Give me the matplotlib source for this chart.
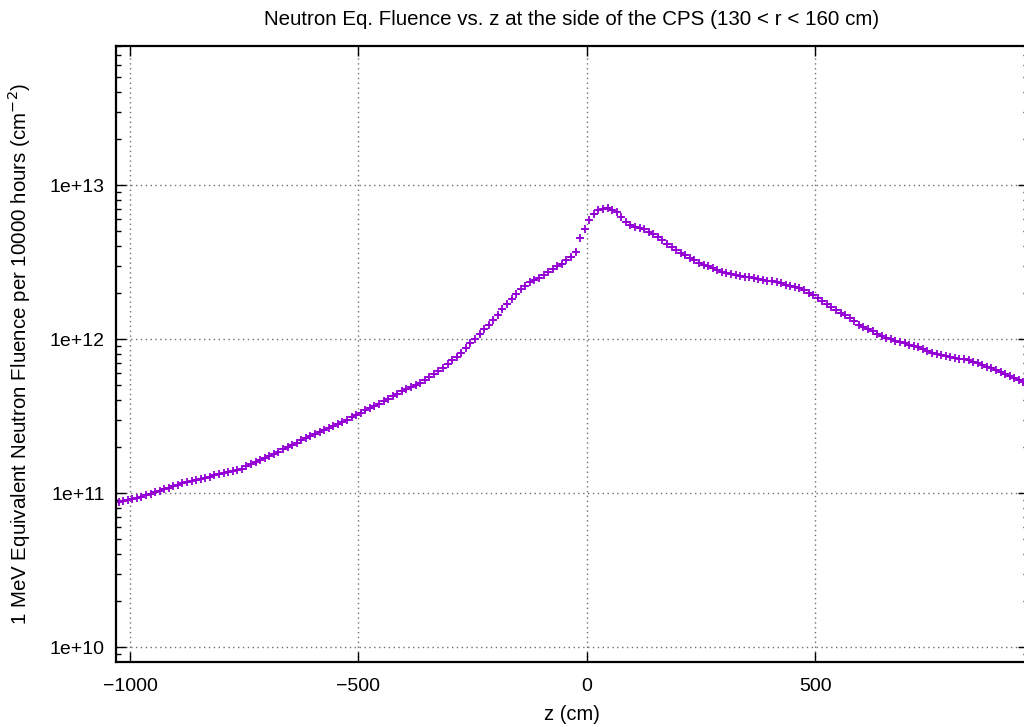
import matplotlib
matplotlib.use("Agg")
import matplotlib.pyplot as plt
import numpy as np
from matplotlib.ticker import FixedLocator, FuncFormatter, LogLocator, NullFormatter

plt.rcParams["font.family"] = ["Liberation Sans", "DejaVu Sans"]

# bin centres along z (cm), 10 cm bins
z_cm = np.arange(-1025, 960, 10)

# 1 MeV neq fluence per 10000 h, in units of 1e11 cm^-2
fluence_e11 = [
    0.870, 0.885, 0.901, 0.915, 0.932, 0.950, 0.970, 0.991, 1.010, 1.035,
    1.060, 1.086, 1.110, 1.136, 1.154, 1.175, 1.196, 1.216, 1.239, 1.259,
    1.280, 1.303, 1.325, 1.346, 1.371, 1.394, 1.405, 1.440, 1.502, 1.543,
    1.585, 1.635, 1.688, 1.739, 1.797, 1.857, 1.919, 1.986, 2.056, 2.128,
    2.199, 2.276, 2.356, 2.435, 2.505, 2.573, 2.643, 2.719, 2.802, 2.900,
    3.001, 3.102, 3.210, 3.322, 3.439, 3.559, 3.684, 3.813, 3.958, 4.108,
    4.265, 4.427, 4.581, 4.721, 4.864, 5.012, 5.180, 5.418, 5.666, 5.926,
    6.198, 6.530, 6.891, 7.272, 7.675, 8.159, 8.742, 9.363, 10.03, 10.76,
    11.56, 12.42, 13.39, 14.43, 15.59, 16.90, 18.30, 19.66, 21.02, 22.23,
    23.45, 24.27, 25.08, 26.12, 27.23, 28.35, 29.61, 30.88, 32.49, 34.23,
    36.94, 45.27, 51.80, 59.27, 64.82, 68.82, 70.38, 70.90, 69.12, 66.79,
    61.97, 57.51, 54.90, 53.77, 52.58, 51.56, 49.90, 48.07, 46.24, 44.08,
    41.70, 39.63, 38.01, 36.45, 34.95, 33.57, 32.43, 31.39, 30.46, 29.66,
    28.91, 28.06, 27.43, 26.99, 26.55, 26.12, 25.65, 25.38, 25.12, 24.89,
    24.64, 24.30, 23.98, 23.66, 23.34, 23.00, 22.59, 22.23, 21.83, 21.44,
    20.75, 20.01, 19.31, 18.38, 17.55, 16.80, 16.11, 15.43, 14.84, 14.25,
    13.69, 13.05, 12.42, 12.00, 11.59, 11.20, 10.79, 10.41, 10.15, 9.956,
    9.763, 9.561, 9.363, 9.183, 9.006, 8.833, 8.612, 8.383, 8.172, 8.040,
    7.897, 7.757, 7.641, 7.540, 7.450, 7.372, 7.261, 7.100, 6.953, 6.809,
    6.628, 6.443, 6.263, 6.087, 5.908, 5.734, 5.565, 5.402, 5.243,
]
rel_err = 0.02

x_ticks = [-1000, -500, 0, 500]
y_ticks = [1e10, 1e11, 1e12, 1e13]

PURPLE = "#9400D3"

fluence = np.array(fluence_e11) * 1e11

fig = plt.figure(figsize=(10.24, 7.27), dpi=100)
ax = fig.add_axes([116 / 1024, 1 - 661.5 / 727, (1028 - 116) / 1024, 616 / 727])

ax.errorbar(z_cm, fluence, xerr=6, yerr=fluence * rel_err, fmt="+",
            color=PURPLE, ms=6, mew=1.3, elinewidth=1.4, capsize=0)

ax.set_yscale("log")
ax.set_xlim(-1030.5, 965)
ax.set_ylim(8.06e9, 8.06e13)

ax.xaxis.set_major_locator(FixedLocator(x_ticks))
ax.yaxis.set_major_locator(FixedLocator(y_ticks))
ax.yaxis.set_minor_locator(LogLocator(base=10, subs=np.arange(2, 10)))
ax.yaxis.set_minor_formatter(NullFormatter())
ax.yaxis.set_major_formatter(FuncFormatter(lambda v, _: f"1e+{int(round(np.log10(v)))}"))

ax.tick_params(which="both", direction="in", top=True, right=True, labelsize=14, width=1.0)
ax.tick_params(which="major", length=7, pad=8)
ax.tick_params(axis="x", which="major", pad=12)
ax.tick_params(which="minor", length=3.5)
for s in ax.spines.values():
    s.set_linewidth(1.6)

ax.grid(True, which="major", color="#6e6e6e", linestyle=(0, (1, 2.5)), linewidth=1.0)

ax.set_title("Neutron Eq. Fluence vs. z at the side of the CPS (130 < r < 160 cm)",
             fontsize=14.8, pad=15)
ax.set_xlabel("z (cm)", fontsize=14.5, labelpad=7)
ax.set_ylabel("1 MeV Equivalent Neutron Fluence per 10000 hours (cm$^{-2}$)",
              fontsize=14.8, labelpad=12)

fig.savefig("out.png", dpi=100)
